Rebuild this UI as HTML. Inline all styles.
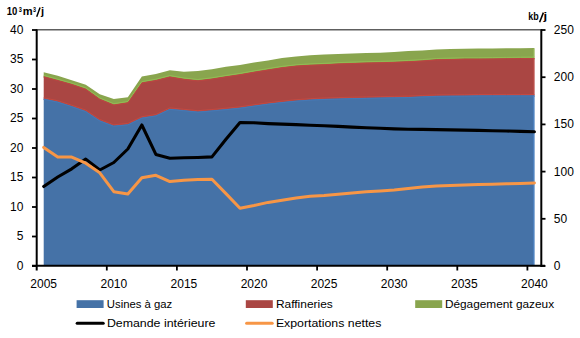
<!DOCTYPE html><html><head><meta charset="utf-8"><style>html,body{margin:0;padding:0;background:#fff;}svg{display:block}</style></head><body>
<svg width="580" height="338" viewBox="0 0 580 338" font-family="Liberation Sans, sans-serif">
<rect width="580" height="338" fill="#fff"/>
<path d="M43.71,72.20 57.73,75.80 71.75,80.30 85.77,84.80 99.79,94.20 113.81,99.00 127.83,97.20 141.85,76.40 155.87,73.90 169.89,70.20 183.91,71.80 197.93,70.90 211.95,69.20 225.97,66.70 239.99,65.00 254.01,62.50 268.03,60.50 282.05,58.10 296.07,56.40 310.09,55.30 324.11,54.60 338.13,53.90 352.15,53.50 366.17,53.10 380.19,52.70 394.21,52.10 408.23,51.10 422.25,50.40 436.27,49.50 450.29,49.10 464.31,48.80 478.33,48.60 492.35,48.40 506.37,48.30 520.39,48.20 534.41,48.10 L534.41,59.40 520.39,59.50 506.37,59.70 492.35,59.90 478.33,60.10 464.31,60.10 450.29,60.40 436.27,60.80 422.25,61.90 408.23,62.70 394.21,63.30 380.19,63.70 366.17,64.00 352.15,64.40 338.13,64.90 324.11,65.70 310.09,66.20 296.07,67.10 282.05,68.70 268.03,70.90 254.01,73.20 239.99,75.70 225.97,77.80 211.95,80.10 197.93,81.80 183.91,80.30 169.89,77.90 155.87,81.50 141.85,83.90 127.83,103.80 113.81,106.00 99.79,100.30 85.77,90.20 71.75,85.40 57.73,81.50 43.71,77.70 Z" fill="#89A54E"/>
<path d="M43.71,76.20 57.73,80.00 71.75,83.90 85.77,88.70 99.79,98.80 113.81,104.50 127.83,102.30 141.85,82.40 155.87,80.00 169.89,76.40 183.91,78.80 197.93,80.30 211.95,78.60 225.97,76.30 239.99,74.20 254.01,71.70 268.03,69.40 282.05,67.20 296.07,65.60 310.09,64.70 324.11,64.20 338.13,63.40 352.15,62.90 366.17,62.50 380.19,62.20 394.21,61.80 408.23,61.20 422.25,60.40 436.27,59.30 450.29,58.90 464.31,58.60 478.33,58.60 492.35,58.40 506.37,58.20 520.39,58.00 534.41,57.90 L534.41,96.80 520.39,96.80 506.37,96.80 492.35,96.80 478.33,96.80 464.31,97.00 450.29,97.10 436.27,97.20 422.25,97.80 408.23,98.40 394.21,98.70 380.19,98.90 366.17,99.20 352.15,99.50 338.13,99.90 324.11,100.30 310.09,101.00 296.07,102.00 282.05,103.40 268.03,105.10 254.01,107.00 239.99,109.10 225.97,110.50 211.95,111.80 197.93,113.00 183.91,111.60 169.89,110.20 155.87,116.80 141.85,119.00 127.83,125.70 113.81,127.10 99.79,121.80 85.77,112.40 71.75,107.50 57.73,103.00 43.71,100.10 Z" fill="#AA4643"/>
<path d="M43.71,266.0 L43.71,98.60 57.73,101.50 71.75,106.00 85.77,110.90 99.79,120.30 113.81,125.60 127.83,124.20 141.85,117.50 155.87,115.30 169.89,108.70 183.91,110.10 197.93,111.50 211.95,110.30 225.97,109.00 239.99,107.60 254.01,105.50 268.03,103.60 282.05,101.90 296.07,100.50 310.09,99.50 324.11,98.80 338.13,98.40 352.15,98.00 366.17,97.70 380.19,97.40 394.21,97.20 408.23,96.90 422.25,96.30 436.27,95.70 450.29,95.60 464.31,95.50 478.33,95.30 492.35,95.30 506.37,95.30 520.39,95.30 534.41,95.30 L534.41,266.0 Z" fill="#4572A7"/>
<polyline points="43.71,75.40 57.73,79.20 71.75,83.10 85.77,87.90 99.79,98.00 113.81,103.70 127.83,101.50 141.85,81.60 155.87,79.20 169.89,75.60 183.91,78.00 197.93,79.50 211.95,77.80 225.97,75.50 239.99,73.40 254.01,70.90 268.03,68.60 282.05,66.40 296.07,64.80 310.09,63.90 324.11,63.40 338.13,62.60 352.15,62.10 366.17,61.70 380.19,61.40 394.21,61.00 408.23,60.40 422.25,59.60 436.27,58.50 450.29,58.10 464.31,57.80 478.33,57.80 492.35,57.60 506.37,57.40 520.39,57.20 534.41,57.10" fill="none" stroke="#93BF55" stroke-width="0.9"/>
<polyline points="43.71,76.90 57.73,80.70 71.75,84.60 85.77,89.40 99.79,99.50 113.81,105.20 127.83,103.00 141.85,83.10 155.87,80.70 169.89,77.10 183.91,79.50 197.93,81.00 211.95,79.30 225.97,77.00 239.99,74.90 254.01,72.40 268.03,70.10 282.05,67.90 296.07,66.30 310.09,65.40 324.11,64.90 338.13,64.10 352.15,63.60 366.17,63.20 380.19,62.90 394.21,62.50 408.23,61.90 422.25,61.10 436.27,60.00 450.29,59.60 464.31,59.30 478.33,59.30 492.35,59.10 506.37,58.90 520.39,58.70 534.41,58.60" fill="none" stroke="#BE4541" stroke-width="0.9"/>
<polyline points="43.71,97.80 57.73,100.70 71.75,105.20 85.77,110.10 99.79,119.50 113.81,124.80 127.83,123.40 141.85,116.70 155.87,114.50 169.89,107.90 183.91,109.30 197.93,110.70 211.95,109.50 225.97,108.20 239.99,106.80 254.01,104.70 268.03,102.80 282.05,101.10 296.07,99.70 310.09,98.70 324.11,98.00 338.13,97.60 352.15,97.20 366.17,96.90 380.19,96.60 394.21,96.40 408.23,96.10 422.25,95.50 436.27,94.90 450.29,94.80 464.31,94.70 478.33,94.50 492.35,94.50 506.37,94.50 520.39,94.50 534.41,94.50" fill="none" stroke="#C8493F" stroke-width="0.9"/>
<polyline points="43.71,99.30 57.73,102.20 71.75,106.70 85.77,111.60 99.79,121.00 113.81,126.30 127.83,124.90 141.85,118.20 155.87,116.00 169.89,109.40 183.91,110.80 197.93,112.20 211.95,111.00 225.97,109.70 239.99,108.30 254.01,106.20 268.03,104.30 282.05,102.60 296.07,101.20 310.09,100.20 324.11,99.50 338.13,99.10 352.15,98.70 366.17,98.40 380.19,98.10 394.21,97.90 408.23,97.60 422.25,97.00 436.27,96.40 450.29,96.30 464.31,96.20 478.33,96.00 492.35,96.00 506.37,96.00 520.39,96.00 534.41,96.00" fill="none" stroke="#4679B8" stroke-width="0.9"/>
<line x1="533.91" y1="95.80" x2="533.91" y2="265" stroke="#558DD0" stroke-width="0.9"/>
<line x1="533.91" y1="58.40" x2="533.91" y2="94.80" stroke="#C25550" stroke-width="0.9"/>
<line x1="533.91" y1="48.60" x2="533.91" y2="57.40" stroke="#9DC160" stroke-width="0.9"/>
<line x1="36.7" y1="29.8" x2="541.3" y2="29.8" stroke="#5E5E5E" stroke-width="1.6"/>
<polyline points="43.71,186.50 57.73,177.00 71.75,168.80 85.77,159.10 99.79,170.00 113.81,162.50 127.83,149.00 141.85,125.00 155.87,154.40 169.89,158.20 183.91,157.80 197.93,157.50 211.95,156.90 225.97,139.20 239.99,122.50 254.01,122.80 268.03,123.60 282.05,124.10 296.07,124.60 310.09,125.20 324.11,125.70 338.13,126.40 352.15,127.10 366.17,127.80 380.19,128.30 394.21,128.90 408.23,129.20 422.25,129.40 436.27,129.60 450.29,129.90 464.31,130.10 478.33,130.40 492.35,130.70 506.37,131.00 520.39,131.40 534.41,131.80" fill="none" stroke="#000" stroke-width="3.1" stroke-linejoin="round" stroke-linecap="round"/>
<polyline points="43.71,147.40 57.73,157.00 71.75,157.10 85.77,163.20 99.79,172.80 113.81,191.70 127.83,193.90 141.85,177.80 155.87,175.30 169.89,181.60 183.91,180.20 197.93,179.50 211.95,179.30 225.97,193.60 239.99,208.20 254.01,205.50 268.03,202.40 282.05,200.30 296.07,197.90 310.09,196.30 324.11,195.60 338.13,194.30 352.15,193.00 366.17,191.70 380.19,191.00 394.21,190.00 408.23,188.60 422.25,187.00 436.27,185.90 450.29,185.40 464.31,185.00 478.33,184.60 492.35,184.20 506.37,183.80 520.39,183.40 534.41,182.90" fill="none" stroke="#F79646" stroke-width="3.0" stroke-linejoin="round" stroke-linecap="round"/>
<line x1="36.7" y1="29.5" x2="36.7" y2="270.5" stroke="#000" stroke-width="2"/>
<line x1="541.3" y1="29.5" x2="541.3" y2="267" stroke="#000" stroke-width="2"/>
<line x1="32" y1="265.7" x2="545" y2="265.7" stroke="#000" stroke-width="2.1"/>
<line x1="32" y1="266.00" x2="37" y2="266.00" stroke="#000" stroke-width="1.8"/>
<text x="23.4" y="269.90" font-size="12" text-anchor="end" fill="#000">0</text>
<line x1="32" y1="236.50" x2="37" y2="236.50" stroke="#000" stroke-width="1.8"/>
<text x="23.4" y="240.40" font-size="12" text-anchor="end" fill="#000">5</text>
<line x1="32" y1="207.00" x2="37" y2="207.00" stroke="#000" stroke-width="1.8"/>
<text x="23.4" y="210.90" font-size="12" text-anchor="end" fill="#000">10</text>
<line x1="32" y1="177.50" x2="37" y2="177.50" stroke="#000" stroke-width="1.8"/>
<text x="23.4" y="181.40" font-size="12" text-anchor="end" fill="#000">15</text>
<line x1="32" y1="148.00" x2="37" y2="148.00" stroke="#000" stroke-width="1.8"/>
<text x="23.4" y="151.90" font-size="12" text-anchor="end" fill="#000">20</text>
<line x1="32" y1="118.50" x2="37" y2="118.50" stroke="#000" stroke-width="1.8"/>
<text x="23.4" y="122.40" font-size="12" text-anchor="end" fill="#000">25</text>
<line x1="32" y1="89.00" x2="37" y2="89.00" stroke="#000" stroke-width="1.8"/>
<text x="23.4" y="92.90" font-size="12" text-anchor="end" fill="#000">30</text>
<line x1="32" y1="59.50" x2="37" y2="59.50" stroke="#000" stroke-width="1.8"/>
<text x="23.4" y="63.40" font-size="12" text-anchor="end" fill="#000">35</text>
<line x1="32" y1="30.00" x2="37" y2="30.00" stroke="#000" stroke-width="1.8"/>
<text x="23.4" y="33.90" font-size="12" text-anchor="end" fill="#000">40</text>
<line x1="541" y1="266.00" x2="545.5" y2="266.00" stroke="#000" stroke-width="1.8"/>
<text x="553.8" y="269.90" font-size="12" fill="#000">0</text>
<line x1="541" y1="218.80" x2="545.5" y2="218.80" stroke="#000" stroke-width="1.8"/>
<text x="553.8" y="222.70" font-size="12" fill="#000">50</text>
<line x1="541" y1="171.60" x2="545.5" y2="171.60" stroke="#000" stroke-width="1.8"/>
<text x="553.8" y="175.50" font-size="12" fill="#000">100</text>
<line x1="541" y1="124.40" x2="545.5" y2="124.40" stroke="#000" stroke-width="1.8"/>
<text x="553.8" y="128.30" font-size="12" fill="#000">150</text>
<line x1="541" y1="77.20" x2="545.5" y2="77.20" stroke="#000" stroke-width="1.8"/>
<text x="553.8" y="81.10" font-size="12" fill="#000">200</text>
<line x1="541" y1="30.00" x2="545.5" y2="30.00" stroke="#000" stroke-width="1.8"/>
<text x="553.8" y="33.90" font-size="12" fill="#000">250</text>
<line x1="106.80" y1="266" x2="106.80" y2="270.5" stroke="#000" stroke-width="1.8"/>
<line x1="176.90" y1="266" x2="176.90" y2="270.5" stroke="#000" stroke-width="1.8"/>
<line x1="247.00" y1="266" x2="247.00" y2="270.5" stroke="#000" stroke-width="1.8"/>
<line x1="317.10" y1="266" x2="317.10" y2="270.5" stroke="#000" stroke-width="1.8"/>
<line x1="387.20" y1="266" x2="387.20" y2="270.5" stroke="#000" stroke-width="1.8"/>
<line x1="457.30" y1="266" x2="457.30" y2="270.5" stroke="#000" stroke-width="1.8"/>
<line x1="527.40" y1="266" x2="527.40" y2="270.5" stroke="#000" stroke-width="1.8"/>
<text x="43.71" y="287.7" font-size="12" text-anchor="middle" fill="#000">2005</text>
<text x="113.81" y="287.7" font-size="12" text-anchor="middle" fill="#000">2010</text>
<text x="183.91" y="287.7" font-size="12" text-anchor="middle" fill="#000">2015</text>
<text x="254.01" y="287.7" font-size="12" text-anchor="middle" fill="#000">2020</text>
<text x="324.11" y="287.7" font-size="12" text-anchor="middle" fill="#000">2025</text>
<text x="394.21" y="287.7" font-size="12" text-anchor="middle" fill="#000">2030</text>
<text x="464.31" y="287.7" font-size="12" text-anchor="middle" fill="#000">2035</text>
<text x="534.41" y="287.7" font-size="12" text-anchor="middle" fill="#000">2040</text>
<g font-weight="bold" fill="#000"><text x="6.8" y="15.2" font-size="11" textLength="10.6" lengthAdjust="spacingAndGlyphs">10</text><text x="18.8" y="11.8" font-size="7.4" textLength="3.1" lengthAdjust="spacingAndGlyphs">3</text><text x="22.8" y="15.2" font-size="10.4" textLength="9.9" lengthAdjust="spacingAndGlyphs">m</text><text x="33.0" y="11.8" font-size="7.4" textLength="3.0" lengthAdjust="spacingAndGlyphs">3</text><line x1="36.7" y1="16.8" x2="40.1" y2="7.4" stroke="#000" stroke-width="1.45"/><text x="41.0" y="15.2" font-size="11" textLength="3.1" lengthAdjust="spacingAndGlyphs">j</text></g>
<g font-weight="bold" fill="#000"><text x="528.3" y="20.4" font-size="11.3" textLength="10.4" lengthAdjust="spacingAndGlyphs">kb</text><line x1="539.6" y1="22.3" x2="543.4" y2="12.6" stroke="#000" stroke-width="1.55"/><text x="543.6" y="20.4" font-size="11.3" textLength="3.6" lengthAdjust="spacingAndGlyphs">j</text></g>
<rect x="76.6" y="300.2" width="27.0" height="7.8" fill="#4572A7"/>
<rect x="245.8" y="300.2" width="27" height="7.8" fill="#AA4643"/>
<rect x="415.2" y="300.2" width="27" height="7.8" fill="#89A54E"/>
<line x1="77.2" y1="323.3" x2="103.2" y2="323.3" stroke="#000" stroke-width="3.1" stroke-linecap="round"/>
<line x1="246.6" y1="323.3" x2="272.2" y2="323.3" stroke="#F79646" stroke-width="3" stroke-linecap="round"/>
<text x="106.8" y="307.6" font-size="11.4" fill="#000" textLength="65.5" lengthAdjust="spacingAndGlyphs">Usines à gaz</text>
<text x="275.9" y="307.6" font-size="11.4" fill="#000" textLength="56.9" lengthAdjust="spacingAndGlyphs">Raffineries</text>
<text x="444.9" y="307.6" font-size="11.4" fill="#000" textLength="109.2" lengthAdjust="spacingAndGlyphs">Dégagement gazeux</text>
<text x="106.9" y="327.0" font-size="11.4" fill="#000" textLength="108.6" lengthAdjust="spacingAndGlyphs">Demande intérieure</text>
<text x="275.9" y="327.0" font-size="11.4" fill="#000" textLength="105.5" lengthAdjust="spacingAndGlyphs">Exportations nettes</text>
</svg></body></html>
